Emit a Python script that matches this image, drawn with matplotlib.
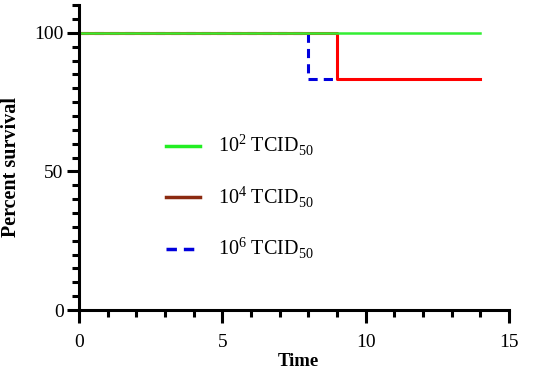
import matplotlib
matplotlib.use("Agg")
import matplotlib.pyplot as plt
from matplotlib.lines import Line2D
from matplotlib.ticker import MultipleLocator

plt.rcParams["font.family"] = "Liberation Serif"
plt.rcParams["mathtext.fontset"] = "custom"
plt.rcParams["mathtext.rm"] = "Liberation Serif"

# step curves (time, percent survival)
t_low = [0, 14]
s_low = [100, 100]
t_mid = [0, 9, 9, 14]
s_mid = [100, 100, 83.33, 83.33]
t_high = [0, 8, 8, 9]
s_high = [100, 100, 83.33, 83.33]

labels = [r"10$^{\mathrm{2}}$ TCID$_{\mathrm{50}}$",
          r"10$^{\mathrm{4}}$ TCID$_{\mathrm{50}}$",
          r"10$^{\mathrm{6}}$ TCID$_{\mathrm{50}}$"]

fig = plt.figure(figsize=(5.5, 3.76), dpi=100)
ax = fig.add_axes([0.1436, 0.1755, 0.782, 0.811])

ax.plot(t_high, s_high, color="#0000dd", lw=2.2, ls=(0, (3, 2)))
ax.plot(t_mid, s_mid, color="#ff0000", lw=2.2)
ax.plot(t_low, s_low, color="#33ee33", lw=1.8)

ax.set_xlim(0, 15)
ax.set_ylim(0, 110)
ax.xaxis.set_major_locator(MultipleLocator(5))
ax.xaxis.set_minor_locator(MultipleLocator(1))
ax.yaxis.set_major_locator(MultipleLocator(50))
ax.yaxis.set_minor_locator(MultipleLocator(5))

for s in ["top", "right"]:
    ax.spines[s].set_visible(False)
for s in ["left", "bottom"]:
    ax.spines[s].set_linewidth(2.2)
    ax.spines[s].set_color("black")
    ax.spines[s].set_clip_on(False)
ax.tick_params(which="major", length=9, width=2.2, labelsize=14)
ax.tick_params(axis="x", which="major", pad=8)
ax.tick_params(axis="y", which="major", pad=2)
ax.tick_params(which="minor", length=5, width=2.2)

ax.set_xlabel("Time", fontsize=13.5, fontweight="bold")
ax.set_ylabel("Percent survival", fontsize=14.5, fontweight="bold")
ax.xaxis.set_label_coords(0.51, -0.14)
ax.yaxis.set_label_coords(-0.135, 0.47)

handles = [Line2D([], [], color="#22ee22", lw=2.5),
           Line2D([], [], color="#8b2a10", lw=2.5),
           Line2D([], [], color="#0000dd", lw=2.5, ls=(0, (3, 2)))]
ax.legend(handles, labels, loc="center left", bbox_to_anchor=(0.16, 0.37),
          frameon=False, fontsize=14.5, handlelength=1.7, handletextpad=0.9,
          labelspacing=1.3)

fig.savefig("out.png", dpi=100)
